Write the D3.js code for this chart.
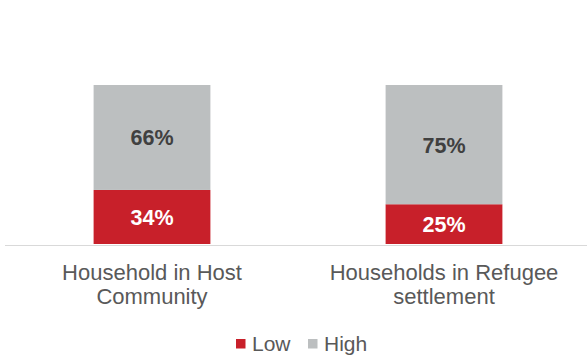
<!DOCTYPE html>
<html>
<head>
<meta charset="utf-8">
<script src="https://cdn.jsdelivr.net/npm/d3@7"></script>
<style>
  html, body { margin: 0; padding: 0; background: #ffffff; }
  svg { display: block; }
</style>
</head>
<body>
<svg id="chart" width="587" height="356"></svg>
<script>
// Household groups and their shares of low / high levels
const categories = [["Household in Host", "Community"], ["Households in Refugee", "settlement"]];
const seriesNames = ["Low", "High"];
const lowValues = [0.34, 0.25];
const highValues = [0.66, 0.75];
const seriesColors = ["#c8202a", "#bcbfc0"];
const labelColors = ["#ffffff", "#404040"];

const svg = d3.select("#chart");
const FONT = "Liberation Sans, Arial, sans-serif";

const keys = categories.map(c => c.join(" "));
const rows = keys.map((k, i) => ({ key: k, Low: lowValues[i], High: highValues[i] }));

const x = d3.scaleBand().domain(keys).range([6, 590]).paddingInner(0.6).paddingOuter(0.3);
const y = d3.scaleLinear().domain([0, 1]).range([244, 85]);

const layers = d3.stack().keys(seriesNames)(rows);

// baseline
svg.append("line")
  .attr("x1", 5).attr("x2", 587)
  .attr("y1", y(0) + 1.5).attr("y2", y(0) + 1.5)
  .attr("stroke", "#d9d9d9").attr("stroke-width", 1);

const groups = svg.selectAll("g.layer").data(layers).join("g")
  .attr("class", "layer")
  .attr("fill", (d, i) => seriesColors[i]);

groups.selectAll("rect").data(d => d).join("rect")
  .attr("x", d => x(d.data.key))
  .attr("y", d => y(d[1]))
  .attr("width", x.bandwidth())
  .attr("height", d => y(d[0]) - y(d[1]));

// value labels inside each segment
layers.forEach((layer, li) => {
  svg.append("g").selectAll("text").data(layer).join("text")
    .attr("x", d => x(d.data.key) + x.bandwidth() / 2)
    .attr("y", d => (y(d[0]) + y(d[1])) / 2)
    .attr("dy", "0.37em")
    .attr("text-anchor", "middle")
    .attr("font-family", FONT)
    .attr("font-weight", "bold")
    .attr("font-size", 21.5)
    .attr("fill", labelColors[li])
    .text(d => Math.round((d[1] - d[0]) * 100) + "%");
});

// category labels, two lines each
const catG = svg.append("g");
categories.forEach((lines, i) => {
  const cx = x(keys[i]) + x.bandwidth() / 2;
  const t = catG.append("text")
    .attr("x", cx)
    .attr("y", 280)
    .attr("text-anchor", "middle")
    .attr("font-family", FONT)
    .attr("font-size", 22)
    .attr("fill", "#595959");
  lines.forEach((ln, j) => {
    t.append("tspan").attr("x", cx).attr("dy", j === 0 ? 0 : 24).text(ln);
  });
});

// legend
const legend = svg.append("g");
const legendX = [236, 308];
seriesNames.forEach((name, i) => {
  legend.append("rect")
    .attr("x", legendX[i]).attr("y", 339)
    .attr("width", 9.5).attr("height", 9.5)
    .attr("fill", seriesColors[i]);
  legend.append("text")
    .attr("x", legendX[i] + 16).attr("y", 351)
    .attr("font-family", FONT)
    .attr("font-size", 21)
    .attr("fill", "#595959")
    .text(name);
});
</script>
</body>
</html>
